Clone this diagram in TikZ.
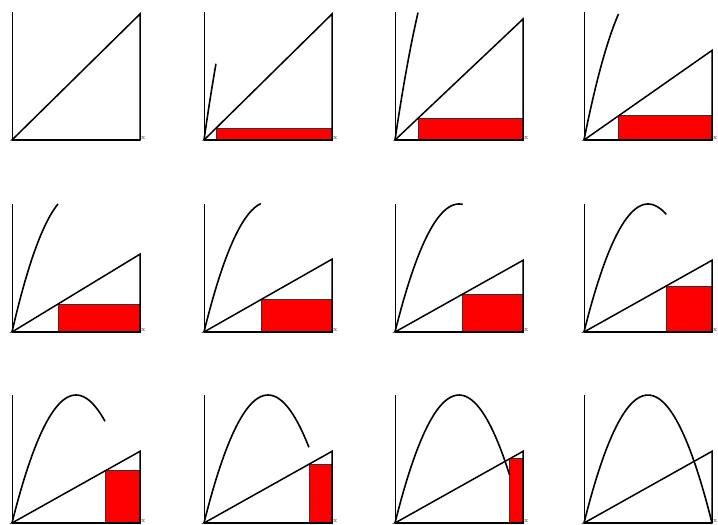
\documentclass[tikz,border=0pt]{standalone}
\usepackage{tikz}

\tikzset{
  axisline/.style={black, line width=0.9pt},
  hill/.style={black, line width=1.5pt, line join=miter},
  baseline/.style={black, line width=2.2pt},
  flight/.style={black, line width=1.6pt},
  strip/.style={draw=black!80, fill=red, line width=0.8pt},
}

\begin{document}
\begin{tikzpicture}[x=1pt,y=1pt]
            \useasboundingbox (0,0) rectangle (718,525);
            % left/bottom corner, reached x, y scale, what to show
            \foreach \ox/\oy/\u/\s/\k in {12/140/0/225/0, 204/140/0.094/225/1, 395/140/0.18/216/1, 584/140/0.27/160/1,
                                          12/332/0.36/139/1, 204/332/0.445/130/1, 395/332/0.53/128/1, 584/332/0.643/128/1,
                                          12/523/0.727/128/1, 204/523/0.82/128/1, 395/523/0.895/128/1, 584/523/1/128/2} {
              \begin{scope}[shift={(\ox,525-\oy)}]
                \ifnum\k=1
                  \draw [strip] ({\u*128},0) rectangle (128,{0.56*\u*\s});
                \fi
                \draw [axisline] (0,0) -- (0,128);
                \draw [hill] (0,0) -- (128,0) -- (128,{0.56*\s}) -- cycle;
                \draw [baseline] (0,0) -- (128,0);
                \ifnum\k>0
                  \draw [flight] plot [variable=\t, domain=0:\u, samples=40, smooth] ({\t*128},{4*\t*(1-\t)*\s});
                \fi
                \node (xlbl) [anchor=west, inner sep=0.5pt, font=\scriptsize, black!75] at (128.5,2) {x};
              \end{scope}
            }
        \end{tikzpicture}
\end{document}
